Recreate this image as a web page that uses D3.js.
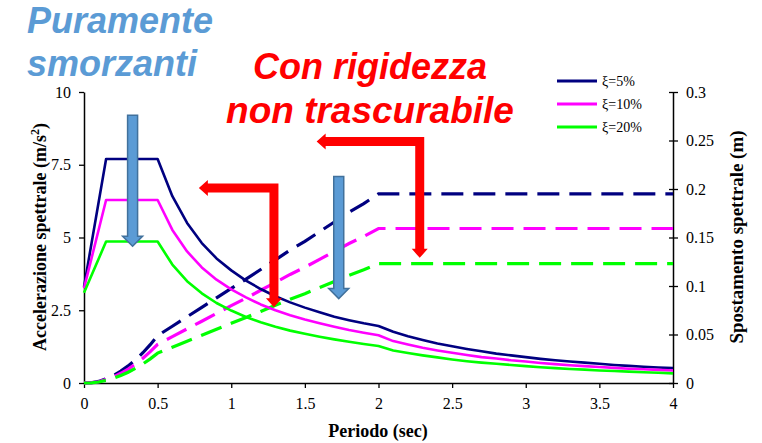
<!DOCTYPE html>
<html>
<head>
<meta charset="utf-8">
<script src="https://cdn.jsdelivr.net/npm/d3@7/dist/d3.min.js"></script>
<style>
  html, body { margin: 0; padding: 0; background: #fff; }
  svg { display: block; }
</style>
</head>
<body>
<svg id="chart" width="762" height="443"></svg>
<script>
// ---------------- DATA ----------------
const seriesNames = ["ξ=5%", "ξ=10%", "ξ=20%"];
const seriesColors = ["#000080", "#ff00ff", "#00ff00"];

const xTicks = [0, 0.5, 1, 1.5, 2, 2.5, 3, 3.5, 4];
const yLeftTicks = [0, 2.5, 5, 7.5, 10];
const yRightTicks = [0, 0.05, 0.1, 0.15, 0.2, 0.25, 0.3];

// Spectral acceleration (m/s^2)
const periodsSa = [0, 0.15, 0.5, 0.6, 0.7, 0.8, 0.9, 1.0, 1.1, 1.2, 1.3, 1.4, 1.5, 1.6, 1.7, 1.8, 1.9, 2.0,
  2.1, 2.2, 2.3, 2.4, 2.5, 2.6, 2.7, 2.8, 2.9, 3.0, 3.1, 3.2, 3.3, 3.4, 3.5, 3.6, 3.7, 3.8, 3.9, 4.0];
const saXi5 = [3.3, 7.7, 7.7, 6.42, 5.50, 4.81, 4.28, 3.87, 3.52, 3.23, 2.98, 2.77, 2.59, 2.43, 2.28, 2.16, 2.05, 1.96,
  1.76, 1.61, 1.48, 1.36, 1.26, 1.17, 1.09, 1.01, 0.95, 0.89, 0.83, 0.78, 0.74, 0.70, 0.66, 0.62, 0.59, 0.56, 0.53, 0.51];
const saXi10 = [3.25, 6.29, 6.29, 5.26, 4.52, 3.97, 3.55, 3.22, 2.94, 2.70, 2.50, 2.33, 2.18, 2.05, 1.93, 1.82, 1.73, 1.64,
  1.44, 1.32, 1.21, 1.12, 1.04, 0.96, 0.89, 0.84, 0.78, 0.74, 0.69, 0.65, 0.61, 0.58, 0.55, 0.52, 0.49, 0.47, 0.45, 0.43];
const saXi20 = [3.1, 4.86, 4.86, 4.07, 3.50, 3.08, 2.75, 2.49, 2.27, 2.09, 1.93, 1.80, 1.69, 1.59, 1.50, 1.42, 1.34, 1.27,
  1.12, 1.03, 0.95, 0.88, 0.81, 0.75, 0.70, 0.66, 0.62, 0.58, 0.54, 0.51, 0.48, 0.46, 0.43, 0.41, 0.39, 0.37, 0.35, 0.33];

// Spectral displacement (m)
const periodsSd = [0, 0.05, 0.1, 0.15, 0.2, 0.25, 0.3, 0.35, 0.4, 0.45, 0.5, 0.6, 0.7, 0.8, 0.9, 1.0, 1.1, 1.2, 1.3,
  1.4, 1.5, 1.6, 1.7, 1.8, 1.9, 2.0, 4.0];
const sdXi5 = [0, 0.0003, 0.0016, 0.0044, 0.0078, 0.0122, 0.0176, 0.0239, 0.0312, 0.0395, 0.0488, 0.0585, 0.0683,
  0.0780, 0.0878, 0.0975, 0.1070, 0.1170, 0.1270, 0.1370, 0.1460, 0.1560, 0.1660, 0.1760, 0.1850, 0.1950, 0.1950];
const sdXi10 = [0, 0.0003, 0.0013, 0.0036, 0.0064, 0.0100, 0.0144, 0.0195, 0.0255, 0.0323, 0.0399, 0.0478, 0.0558,
  0.0637, 0.0717, 0.0797, 0.0874, 0.0956, 0.1038, 0.1119, 0.1193, 0.1275, 0.1356, 0.1438, 0.1511, 0.1593, 0.1593];
const sdXi20 = [0, 0.0002, 0.0010, 0.0028, 0.0049, 0.0077, 0.0111, 0.0151, 0.0197, 0.0249, 0.0308, 0.0369, 0.0431,
  0.0492, 0.0554, 0.0615, 0.0675, 0.0738, 0.0801, 0.0864, 0.0921, 0.0984, 0.1047, 0.1111, 0.1167, 0.1230, 0.1230];

// Annotation arrows in data coordinates (period, left-axis acceleration)
// blue: straight down arrows  [T, SaTop, SaTip]
const blueArrows = [[0.33, 9.2, 4.7], [1.73, 7.1, 2.9]];
// red: L-shaped arrows [T vertical, SaTip(bottom), SaCorner(top), T left tip]
const redArrows = [[1.29, 2.6, 6.7, 0.78], [2.28, 4.3, 8.3, 1.58]];

// ---------------- CHART ----------------
const svg = d3.select("#chart");
const x = d3.scaleLinear().domain([0, 4]).range([84, 673]);
const yL = d3.scaleLinear().domain([0, 10]).range([383, 92]);
const yR = d3.scaleLinear().domain([0, 0.3]).range([383, 92]);

const serif = "'Liberation Serif', 'Times New Roman', serif";
const sans = "'Liberation Sans', Arial, sans-serif";

// Axes
const xAxis = svg.append("g").attr("transform", "translate(0,383)")
  .call(d3.axisBottom(x).tickValues(xTicks).tickFormat(d => d).tickSize(5).tickPadding(10).tickSizeOuter(0));
const lAxis = svg.append("g").attr("transform", "translate(84,0)")
  .call(d3.axisLeft(yL).tickValues(yLeftTicks).tickFormat(d => d).tickSize(5).tickPadding(8).tickSizeOuter(0));
const rAxis = svg.append("g").attr("transform", "translate(673,0)")
  .call(d3.axisRight(yR).tickValues(yRightTicks).tickFormat(d => d).tickSize(5).tickPadding(8).tickSizeOuter(0));
rAxis.selectAll(".tick line").attr("x1", -4);

[xAxis, lAxis, rAxis].forEach(a => {
  a.select(".domain").attr("stroke", "#000").attr("stroke-width", 1.5);
  a.selectAll(".tick line").attr("stroke", "#000").attr("stroke-width", 1.3);
  a.selectAll(".tick text").attr("font-family", serif).attr("font-size", 16).attr("fill", "#000");
});

// Axis titles
const leftTitle = svg.append("text").attr("transform", "translate(46,237) rotate(-90)")
  .attr("text-anchor", "middle").attr("font-family", serif).attr("font-weight", "bold").attr("font-size", 18);
leftTitle.append("tspan").text("Accelerazione spettrale (m/s");
leftTitle.append("tspan").attr("dy", -7).attr("font-size", 12).text("2");
leftTitle.append("tspan").attr("dy", 7).text(")");

svg.append("text").attr("transform", "translate(743,237) rotate(-90)")
  .attr("text-anchor", "middle").attr("font-family", serif).attr("font-weight", "bold").attr("font-size", 19)
  .text("Spostamento spettrale (m)");

svg.append("text").attr("x", 378).attr("y", 437)
  .attr("text-anchor", "middle").attr("font-family", serif).attr("font-weight", "bold").attr("font-size", 18)
  .text("Periodo (sec)");

// Curves
const saSeries = [saXi5, saXi10, saXi20];
const sdSeries = [sdXi5, sdXi10, sdXi20];
const lineSa = d3.line().x(d => x(d[0])).y(d => yL(d[1]));
const lineSd = d3.line().x(d => x(d[0])).y(d => yR(d[1]));

sdSeries.forEach((s, i) => {
  svg.append("path").datum(periodsSd.map((t, k) => [t, s[k]]))
    .attr("d", lineSd).attr("fill", "none").attr("stroke", seriesColors[i])
    .attr("stroke-width", 3.2).attr("stroke-dasharray", "22,10");
});
saSeries.forEach((s, i) => {
  svg.append("path").datum(periodsSa.map((t, k) => [t, s[k]]))
    .attr("d", lineSa).attr("fill", "none").attr("stroke", seriesColors[i])
    .attr("stroke-width", 2.6).attr("stroke-linejoin", "round");
});

// Legend
const legend = svg.append("g");
seriesNames.forEach((n, i) => {
  const ly = 81 + i * 23;
  legend.append("line").attr("x1", 557).attr("x2", 597).attr("y1", ly).attr("y2", ly)
    .attr("stroke", seriesColors[i]).attr("stroke-width", 3);
  legend.append("text").attr("x", 602).attr("y", ly + 5).attr("font-family", serif)
    .attr("font-size", 14).attr("fill", "#000").text(n);
});

// Blue arrows (straight down)
blueArrows.forEach(a => {
  const cx = x(a[0]), top = yL(a[1]), tip = yL(a[2]);
  const sw = 5, hw = 10, hl = 10;
  const pts = [[cx - sw, top], [cx + sw, top], [cx + sw, tip - hl], [cx + hw, tip - hl], [cx, tip],
    [cx - hw, tip - hl], [cx - sw, tip - hl]];
  svg.append("polygon").attr("points", pts.map(p => p.join(",")).join(" "))
    .attr("fill", "#5b9bd5").attr("stroke", "#41719c").attr("stroke-width", 1.5);
});

// Red L-shaped arrows
redArrows.forEach(a => {
  const vx = x(a[0]), tip = yL(a[1]), corner = yL(a[2]), lx = x(a[3]);
  const sw = 4.5, hw = 8, hl = 9;
  const pts = [
    [vx + sw, corner - sw], [vx + sw, tip - hl], [vx + hw, tip - hl], [vx, tip], [vx - hw, tip - hl],
    [vx - sw, tip - hl], [vx - sw, corner + sw], [lx + hl, corner + sw], [lx + hl, corner + hw], [lx, corner],
    [lx + hl, corner - hw], [lx + hl, corner - sw]
  ];
  svg.append("polygon").attr("points", pts.map(p => p.join(",")).join(" ")).attr("fill", "#ff0000");
});

// Titles
svg.append("text").attr("x", 27).attr("y", 33).attr("font-family", sans).attr("font-weight", "bold")
  .attr("font-style", "italic").attr("font-size", 36).attr("fill", "#5b9bd5").text("Puramente");
svg.append("text").attr("x", 27).attr("y", 76).attr("font-family", sans).attr("font-weight", "bold")
  .attr("font-style", "italic").attr("font-size", 36).attr("fill", "#5b9bd5").text("smorzanti");
svg.append("text").attr("x", 370).attr("y", 79).attr("text-anchor", "middle").attr("font-family", sans)
  .attr("font-weight", "bold").attr("font-style", "italic").attr("font-size", 36).attr("fill", "#ff0000")
  .text("Con rigidezza");
svg.append("text").attr("x", 370).attr("y", 123).attr("text-anchor", "middle").attr("font-family", sans)
  .attr("font-weight", "bold").attr("font-style", "italic").attr("font-size", 37).attr("fill", "#ff0000")
  .text("non trascurabile");
</script>
</body>
</html>
